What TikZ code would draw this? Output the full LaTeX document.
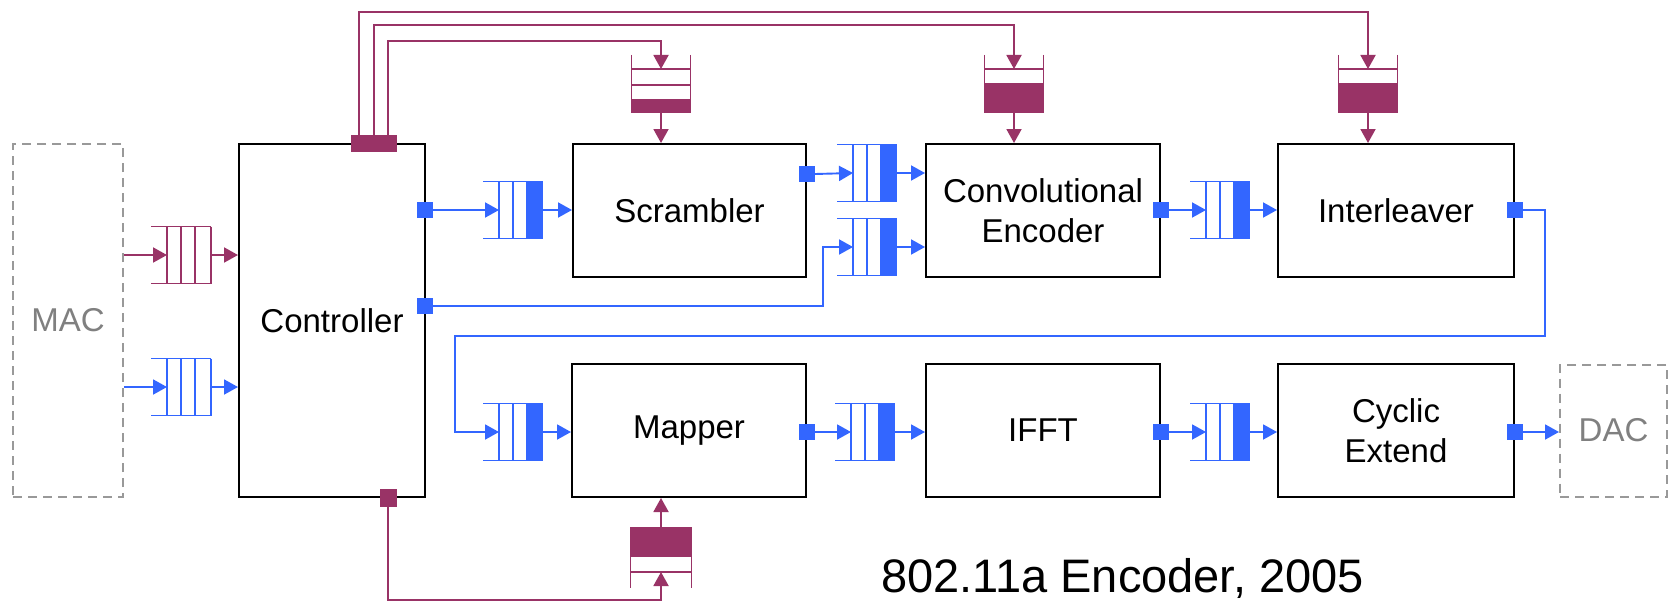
\documentclass[tikz,border=0pt]{standalone}
\usepackage{fontspec}
\setmainfont{Liberation Sans}
\usetikzlibrary{arrows.meta,calc}
\definecolor{pur}{HTML}{993366}
\definecolor{blu}{HTML}{3366FF}
\definecolor{dgray}{HTML}{999999}
\definecolor{tgray}{HTML}{808080}
\tikzset{
  block/.style={draw=black,line width=2pt,inner sep=0pt,align=center,
    font=\fontsize{33}{40}\selectfont},
  ext/.style={draw=dgray,line width=2pt,dash pattern=on 9pt off 6pt,inner sep=0pt,
    text=tgray,font=\fontsize{33}{40}\selectfont},
  bport/.style={fill=blu,inner sep=0pt,minimum width=16pt,minimum height=16pt},
  pport/.style={fill=pur,inner sep=0pt},
  bflow/.style={draw=blu,line width=1.9pt,-{Triangle[length=14pt,width=15pt]}},
  pflow/.style={draw=pur,line width=1.9pt,-{Triangle[length=14pt,width=15pt]}},
  equeue/.pic={
    \draw[line width=1.8pt] (0,-28.5) -- (60,-28.5) (0,28.5) -- (60,28.5)
      (16,-28.5) -- (16,28.5) (30,-28.5) -- (30,28.5) (44,-28.5) -- (44,28.5)
      (60,-28.5) -- (60,28.5);
    \coordinate (-in) at (16,0); \coordinate (-out) at (60,0);
  },
  fqueue/.pic={
    \draw[line width=1.8pt] (0,-28.5) -- (60,-28.5) (0,28.5) -- (60,28.5)
      (16,-28.5) -- (16,28.5) (30,-28.5) -- (30,28.5) (44,-28.5) -- (44,28.5);
    \fill (44,-28.5) rectangle (60,28.5);
    \coordinate (-in) at (16,0); \coordinate (-out) at (60,0);
  },
  memtwo/.pic={
    \draw[line width=1.8pt] (-29.5,0) -- (-29.5,58) (29.5,0) -- (29.5,58)
      (-29.5,14) -- (29.5,14) (-29.5,30) -- (29.5,30);
    \fill (-29.5,44) rectangle (29.5,58);
    \coordinate (-in) at (0,14); \coordinate (-out) at (0,58);
  },
  memone/.pic={
    \draw[line width=1.8pt] (-29.5,0) -- (-29.5,58) (29.5,0) -- (29.5,58)
      (-29.5,14) -- (29.5,14);
    \fill (-29.5,28) rectangle (29.5,58);
    \coordinate (-in) at (0,14); \coordinate (-out) at (0,58);
  },
  memup/.pic={
    \draw[line width=1.8pt] (-30.5,0) -- (-30.5,61) (30.5,0) -- (30.5,61)
      (-30.5,45) -- (30.5,45);
    \fill (-30.5,0) rectangle (30.5,30);
    \coordinate (-in) at (0,45); \coordinate (-out) at (0,0);
  }
}
\begin{document}
\begin{tikzpicture}[x=1pt,y=-1pt]
\useasboundingbox (0,0) rectangle (1669,602);
\fill[white] (0,0) rectangle (1669,602);

% blocks
\node[ext,minimum width=110pt,minimum height=353pt] (mac) at (68,320.5) {MAC};
\node[block,minimum width=186pt,minimum height=353pt] (ctrl) at (332,320.5) {Controller};
\node[block,minimum width=233pt,minimum height=133pt] (scr) at (689.5,210.5) {Scrambler};
\node[block,minimum width=234pt,minimum height=133pt] (conv) at (1043,210.5) {Convolutional\\Encoder};
\node[block,minimum width=236pt,minimum height=133pt] (int) at (1396,210.5) {Interleaver};
\node[block,minimum width=234pt,minimum height=133pt] (map) at (689,430.5) {Mapper};
\node[block,minimum width=234pt,minimum height=133pt] (ifft) at (1043,430.5) {IFFT};
\node[block,minimum width=236pt,minimum height=133pt] (cyc) at (1396,430.5) {Cyclic\\Extend};
\node[ext,minimum width=107pt,minimum height=132pt] (dac) at (1613.5,430.5) {DAC};

% queues
\pic[pur] (qP) at (151,255) {equeue};
\pic[blu] (qB) at (151,387) {equeue};
\pic[blu] (qS) at (483,210) {fqueue};
\pic[blu] (qC1) at (837,173) {fqueue};
\pic[blu] (qC2) at (837,247) {fqueue};
\pic[blu] (qI) at (1190,210) {fqueue};
\pic[blu] (qM) at (483,432) {fqueue};
\pic[blu] (qF) at (835,432) {fqueue};
\pic[blu] (qX) at (1190,432) {fqueue};

% memories
\pic[pur] (mS) at (661,55) {memtwo};
\pic[pur] (mC) at (1014,55) {memone};
\pic[pur] (mI) at (1368,55) {memone};
\pic[pur] (mM) at (661,527) {memup};

% bend points
\coordinate (bS) at (661,41);
\coordinate (bC) at (1014,25);
\coordinate (bI) at (1368,12);
\coordinate (bM) at (661,600);
\coordinate (k2) at (823,247);
\coordinate (k3) at (1545,336);
\coordinate (k4) at (455,336);

% purple control connectors
\node[pport,minimum width=46pt,minimum height=17pt] (ctop) at (374,143.5) {};
\node[pport,minimum width=17pt,minimum height=18pt] (cbot) at (388,498) {};
\draw[pflow] ([xshift=14pt]ctop.north) |- (bS) -- (mS-in);
\draw[pflow] (ctop.north) |- (bC) -- (mC-in);
\draw[pflow] ([xshift=-15pt]ctop.north) |- (bI) -- (mI-in);
\draw[pflow] (mS-out) -- (mS-out |- scr.north);
\draw[pflow] (mC-out) -- (mC-out |- conv.north);
\draw[pflow] (mI-out) -- (mI-out |- int.north);
\draw[pflow] (cbot.south) |- (bM) -- (mM-in);
\draw[pflow] (mM-out) -- (mM-out |- map.south);
\node[pport,minimum width=46pt,minimum height=17pt] at (ctop) {};
\node[pport,minimum width=17pt,minimum height=18pt] at (cbot) {};

% MAC inputs
\draw[pflow] (qP-in -| mac.east) -- (qP-in);
\draw[pflow] (qP-out) -- (qP-out -| ctrl.west);
\draw[bflow] (qB-in -| mac.east) -- (qB-in);
\draw[bflow] (qB-out) -- (qB-out -| ctrl.west);

% blue data ports
\node[bport] (cp1) at (425,210) {};
\node[bport] (cp2) at (425,306) {};
\node[bport] (sp) at (807,174) {};
\node[bport] (cvp) at (1161,210) {};
\node[bport] (ip) at (1515,210) {};
\node[bport] (mp) at (807,432) {};
\node[bport] (fp) at (1161,432) {};
\node[bport] (xp) at (1515,432) {};

% blue data connectors
\draw[bflow] (cp1.east) -- (qS-in);
\draw[bflow] (qS-out) -- (qS-out -| scr.west);
\draw[bflow] (sp.east) -- (qC1-in);
\draw[bflow] (qC1-out) -- (qC1-out -| conv.west);
\draw[bflow] (cp2.east) -| (k2) -- (qC2-in);
\draw[bflow] (qC2-out) -- (qC2-out -| conv.west);
\draw[bflow] (cvp.east) -- (qI-in);
\draw[bflow] (qI-out) -- (qI-out -| int.west);
\draw[bflow] (ip.east) -| (k3) -- (k4) |- (qM-in);
\draw[bflow] (qM-out) -- (qM-out -| map.west);
\draw[bflow] (mp.east) -- (qF-in);
\draw[bflow] (qF-out) -- (qF-out -| ifft.west);
\draw[bflow] (fp.east) -- (qX-in);
\draw[bflow] (qX-out) -- (qX-out -| cyc.west);
\draw[bflow] (xp.east) -- (xp.east -| dac.west);

% caption
\node[anchor=base west,inner sep=0pt,font=\fontsize{47}{50}\selectfont] (cap) at (881,592) {802.11a Encoder, 2005};
\end{tikzpicture}
\end{document}
